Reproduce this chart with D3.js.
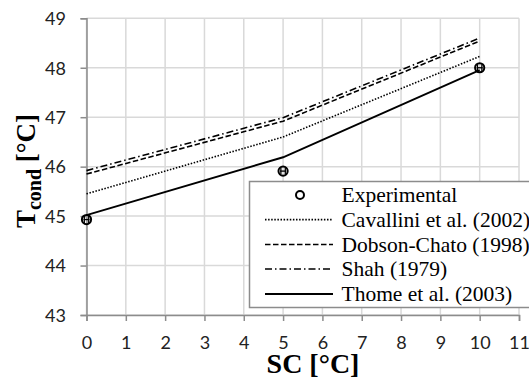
<!DOCTYPE html>
<html>
<head>
<meta charset="utf-8">
<script src="https://cdn.jsdelivr.net/npm/d3@7"></script>
<style>
  html, body { margin: 0; padding: 0; background: #fff; }
  svg { display: block; }
</style>
</head>
<body>
<svg id="chart" width="529" height="381"></svg>
<script>
// Subcooling (°C) at which each condition was evaluated
const subcooling = [0, 5, 10];

// Measured condensing temperature (°C)
const experimental = [44.93, 45.91, 48.0];

// Model predictions of condensing temperature (°C)
const cavallini = [45.45, 46.6, 48.23];
const dobsonChato = [45.85, 46.92, 48.54];
const shah = [45.92, 46.99, 48.6];
const thome = [45.02, 46.19, 47.95];

const xTicks = [0, 1, 2, 3, 4, 5, 6, 7, 8, 9, 10, 11];
const yTicks = [43, 44, 45, 46, 47, 48, 49];

const models = [
  { name: "Cavallini et al. (2002)", values: cavallini, dash: "1.5,1.6", width: 1.6 },
  { name: "Dobson-Chato (1998)", values: dobsonChato, dash: "5.5,2.5", width: 1.6 },
  { name: "Shah (1979)", values: shah, dash: "7,3,1.5,3", width: 1.6 },
  { name: "Thome et al. (2003)", values: thome, dash: null, width: 1.9 }
];

const svg = d3.select("#chart");
const x = d3.scaleLinear().domain([0, 11]).range([86.5, 519]);
const y = d3.scaleLinear().domain([43, 49]).range([315, 18.3]);

// gridlines
const grid = svg.append("g");
grid.selectAll("line.v").data(xTicks).join("line")
  .attr("x1", d => x(d)).attr("x2", d => x(d))
  .attr("y1", y(49)).attr("y2", y(43))
  .attr("stroke", "#d9d9d9").attr("stroke-width", 1.5);
grid.selectAll("line.h").data(yTicks).join("line")
  .attr("x1", x(0)).attr("x2", x(11))
  .attr("y1", d => y(d)).attr("y2", d => y(d))
  .attr("stroke", "#d9d9d9").attr("stroke-width", 1.5);

// axes
const tickFont = "Lato, 'Open Sans', sans-serif";
const yAxis = svg.append("g")
  .attr("transform", `translate(${x(0)},0)`)
  .call(d3.axisLeft(y).tickValues(yTicks).tickFormat(d3.format("d")).tickSize(6).tickPadding(14.5));
const xAxis = svg.append("g")
  .attr("transform", `translate(0,${y(43)})`)
  .call(d3.axisBottom(x).tickValues(xTicks).tickFormat(d3.format("d")).tickSize(6));
[yAxis, xAxis].forEach(a => {
  a.select(".domain").attr("stroke", "#8c8c8c").attr("stroke-width", 1.5);
  a.selectAll(".tick line").attr("stroke", "#8c8c8c").attr("stroke-width", 1.5);
  a.selectAll(".tick text")
    .attr("font-family", tickFont).attr("font-size", 18).attr("fill", "#222");
});
yAxis.selectAll(".tick text").attr("dy", "0.35em");
xAxis.selectAll(".tick text").attr("y", 34).attr("dy", null);

// model curves
const line = d3.line().x((d, i) => x(subcooling[i])).y(d => y(d));
models.forEach(m => {
  svg.append("path")
    .attr("d", line(m.values))
    .attr("fill", "none")
    .attr("stroke", "#000")
    .attr("stroke-width", m.width)
    .attr("stroke-dasharray", m.dash);
});

// experimental points with small error bars
function marker(g, cx, cy) {
  g.append("circle").attr("cx", cx).attr("cy", cy).attr("r", 4.6)
    .attr("fill", "none").attr("stroke", "#000").attr("stroke-width", 2);
  g.append("line").attr("x1", cx - 3).attr("x2", cx + 3).attr("y1", cy).attr("y2", cy)
    .attr("stroke", "#000").attr("stroke-width", 1.3);
  [-2.2, 2.2].forEach(o => g.append("line")
    .attr("x1", cx + o).attr("x2", cx + o).attr("y1", cy - 3.5).attr("y2", cy + 3.5)
    .attr("stroke", "#000").attr("stroke-width", 1.3));
}
const pts = svg.append("g");
experimental.forEach((v, i) => marker(pts, x(subcooling[i]), y(v)));

// legend
const legend = svg.append("g");
legend.append("rect")
  .attr("x", 249.5).attr("y", 181.5).attr("width", 300).attr("height", 126)
  .attr("fill", "#fff").attr("stroke", "#8c8c8c").attr("stroke-width", 1.5);
const rowY = [195, 219.6, 244.5, 269, 294];
const serif = "'Liberation Serif', 'Times New Roman', serif";
const labels = ["Experimental"].concat(models.map(m => m.name));
labels.forEach((t, i) => {
  legend.append("text")
    .attr("x", 341.5).attr("y", rowY[i]).attr("dy", "0.33em")
    .attr("font-family", serif).attr("font-size", 21.5).attr("fill", "#000")
    .text(t);
});
legend.append("circle").attr("cx", 300).attr("cy", rowY[0]).attr("r", 4)
  .attr("fill", "none").attr("stroke", "#000").attr("stroke-width", 2);
models.forEach((m, i) => {
  legend.append("line")
    .attr("x1", 265).attr("x2", 333).attr("y1", rowY[i + 1]).attr("y2", rowY[i + 1])
    .attr("stroke", "#000").attr("stroke-width", m.width)
    .attr("stroke-dasharray", m.dash);
});

// axis titles
svg.append("text")
  .attr("x", 313).attr("y", 373).attr("text-anchor", "middle")
  .attr("font-family", serif).attr("font-weight", "bold").attr("font-size", 28)
  .text("SC [°C]");
const yTitle = svg.append("text")
  .attr("transform", "translate(35,171) rotate(-90)")
  .attr("text-anchor", "middle")
  .attr("font-family", serif).attr("font-weight", "bold").attr("font-size", 27);
yTitle.append("tspan").text("T");
yTitle.append("tspan").attr("font-size", 20).attr("dy", 6).text("cond");
yTitle.append("tspan").attr("dy", -6).text(" [°C]");
</script>
</body>
</html>
